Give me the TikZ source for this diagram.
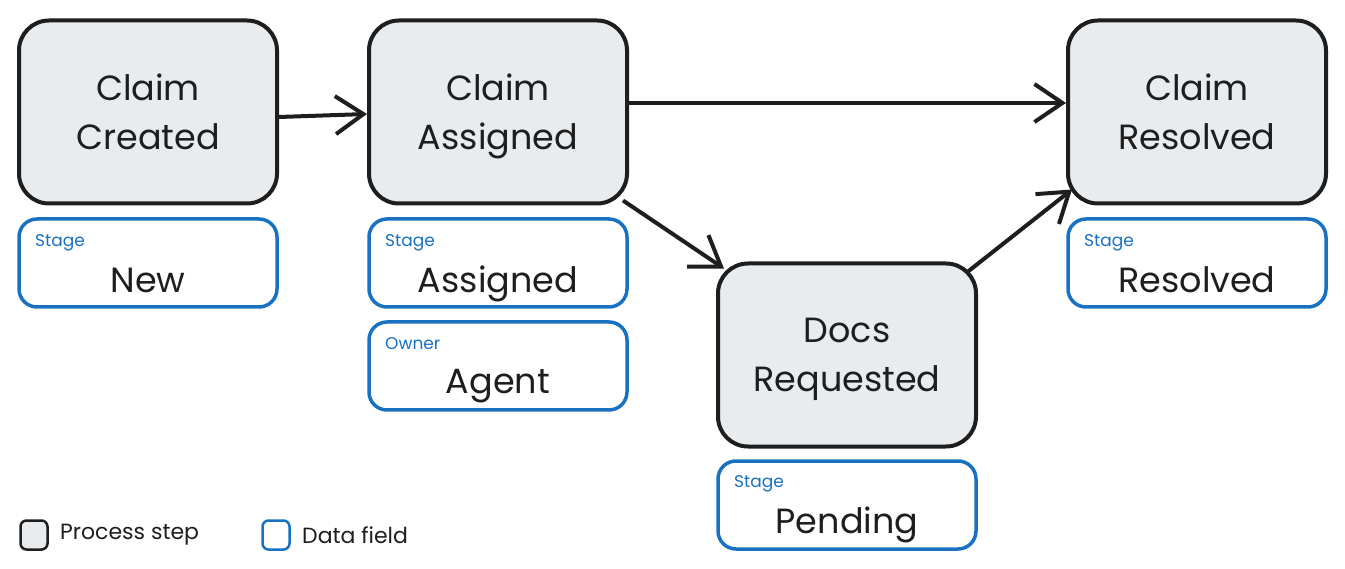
\documentclass[tikz,border=0pt]{standalone}
\usepackage{fontspec}
\setmainfont{Poppins}
\usetikzlibrary{arrows.meta}
\definecolor{ink}{HTML}{1E1E1E}
\definecolor{stepfill}{HTML}{E9ECEF}
\definecolor{fieldblue}{HTML}{1971C2}
\tikzset{
  procstep/.style={draw=ink, fill=stepfill, line width=4pt, rounded corners=30pt,
    minimum width=258pt, minimum height=183pt, inner sep=0pt},
  steptext/.style={align=center, inner sep=0pt, font=\fontsize{35}{49}\selectfont, text=ink},
  datafield/.style={draw=fieldblue, fill=white, line width=3.5pt, rounded corners=18pt,
    minimum width=258pt, minimum height=88pt, inner sep=0pt},
  fieldlabel/.style={anchor=west, text=fieldblue, font=\fontsize{17}{20}\selectfont, inner sep=0pt},
  fieldvalue/.style={text=ink, font=\fontsize{35}{40}\selectfont, inner sep=0pt},
  flow/.style={draw=ink, line width=4pt, -{Straight Barb[length=28pt, width=38pt]}},
  legendbox/.style={line width=2.5pt, rounded corners=6pt, minimum width=27pt, minimum height=29pt, inner sep=0pt},
  legendtext/.style={anchor=west, text=ink, font=\fontsize{22}{26}\selectfont, inner sep=0pt}
}
\begin{document}
\begin{tikzpicture}[x=1pt, y=-1pt]
\useasboundingbox (0,0) rectangle (1345,569);
% process steps
\node[procstep] (created) at (148,112) {};
\node[steptext] (createdt) at (148,115) {Claim\strut\\Created\strut};
\node[procstep] (assigned) at (498,112) {};
\node[steptext] (assignedt) at (498,115) {Claim\strut\\Assigned\strut};
\node[procstep] (resolved) at (1197,112) {};
\node[steptext] (resolvedt) at (1197,115) {Claim\strut\\Resolved\strut};
\node[procstep] (docs) at (847,355) {};
\node[steptext] (docst) at (847,357) {Docs\strut\\Requested\strut};
% data fields
\node[datafield] (fnew) at (148,263) {};
\node[fieldlabel] (fnewl) at (35,243) {Stage};
\node[fieldvalue] (fnewv) at (148,285) {New\strut};
\node[datafield] (fassigned) at (498,263) {};
\node[fieldlabel] (fassignedl) at (385,243) {Stage};
\node[fieldvalue] (fassignedv) at (498,285) {Assigned\strut};
\node[datafield] (fowner) at (498,366) {};
\node[fieldlabel] (fownerl) at (385,344) {Owner};
\node[fieldvalue] (fownerv) at (498,386) {Agent\strut};
\node[datafield] (fresolved) at (1197,263) {};
\node[fieldlabel] (fresolvedl) at (1084,243) {Stage};
\node[fieldvalue] (fresolvedv) at (1197,285) {Resolved\strut};
\node[datafield] (fpending) at (847,505) {};
\node[fieldlabel] (fpendingl) at (734,484) {Stage};
\node[fieldvalue] (fpendingv) at (847,525) {Pending\strut};
% connectors
\draw[flow] (created.east |- 0,117) -- (assigned.west |- 0,114);
\draw[flow] (assigned.east |- 0,103) -- (resolved.west |- 0,103);
\draw[flow] (assigned.south east) ++(-6,-5) coordinate (a1) (a1) -- ([shift={(8,7)}]docs.north west);
\draw[flow] (docs.north east) ++(-10,10) coordinate (d1) (d1) -- ([shift={(6,-16)}]resolved.south west);
% legend
\node[legendbox, draw=ink, fill=stepfill] (lstep) at (34,535) {};
\node[legendtext] (lsteptext) at (60,535) {Process step};
\node[legendbox, draw=fieldblue, fill=white] (lfield) at (276,535) {};
\node[legendtext] (lfieldtext) at (302,535) {Data field};
\end{tikzpicture}
\end{document}
